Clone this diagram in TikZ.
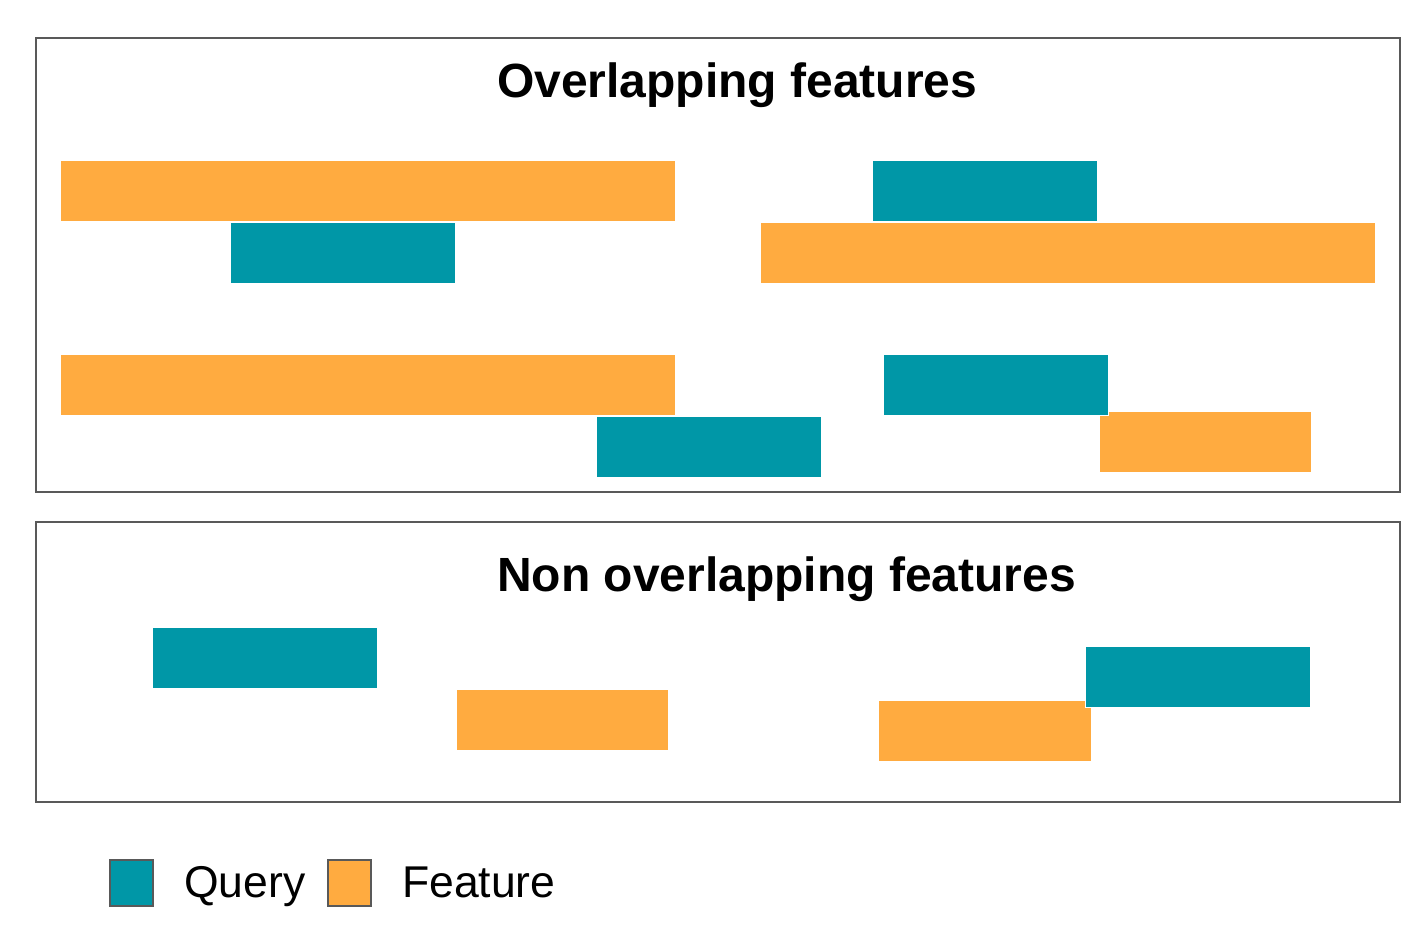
\documentclass[tikz,border=0pt]{standalone}
\usepackage{fontspec}
\setmainfont{Liberation Sans}
\definecolor{qteal}{RGB}{0,151,167}
\definecolor{forange}{RGB}{255,171,64}
\definecolor{frame}{RGB}{89,89,89}
\begin{document}
\begin{tikzpicture}[x=1pt,y=-1pt,
  panel/.style={draw=frame,line width=2pt},
  qbar/.style={fill=qteal,draw=white,line width=1pt},
  fbar/.style={fill=forange,draw=white,line width=1pt},
  title/.style={anchor=base west,inner sep=0pt,font=\fontsize{48}{56}\selectfont\bfseries},
  legtext/.style={anchor=base west,inner sep=0pt,font=\fontsize{44.5}{52}\selectfont},
  legbox/.style={draw=frame,line width=2pt}]
\useasboundingbox (0,0) rectangle (1418,932);
% panels
\draw[panel] (36,38) rectangle (1400,492);
\draw[panel] (36,522) rectangle (1400,802);
\node[title] (t1) at (497,97) {Overlapping features};
\node[title] (t2) at (497,591) {Non overlapping features};
% overlapping bars
\draw[fbar] (60.5,160.5) rectangle (675,221);
\draw[qbar] (230.5,222.5) rectangle (455,283);
\draw[qbar] (872.5,160.5) rectangle (1097,221);
\draw[fbar] (760.5,222.5) rectangle (1375,283);
\draw[fbar] (60.5,354.5) rectangle (675,415);
\draw[qbar] (596.5,416.5) rectangle (821,477);
\draw[fbar] (1099.5,411.5) rectangle (1311,472);
\draw[qbar] (883.5,354.5) rectangle (1108,415);
% non overlapping bars
\draw[qbar] (152.5,627.5) rectangle (377,688);
\draw[fbar] (456.5,689.5) rectangle (668,750);
\draw[fbar] (878.5,700.5) rectangle (1091,761);
\draw[qbar] (1085.5,646.5) rectangle (1310,707);
% legend
\draw[legbox,fill=qteal] (110,860) rectangle (153,906);
\node[legtext] (lq) at (184,897) {Query};
\draw[legbox,fill=forange] (328,860) rectangle (371,906);
\node[legtext] (lf) at (402,897) {Feature};
\end{tikzpicture}
\end{document}
